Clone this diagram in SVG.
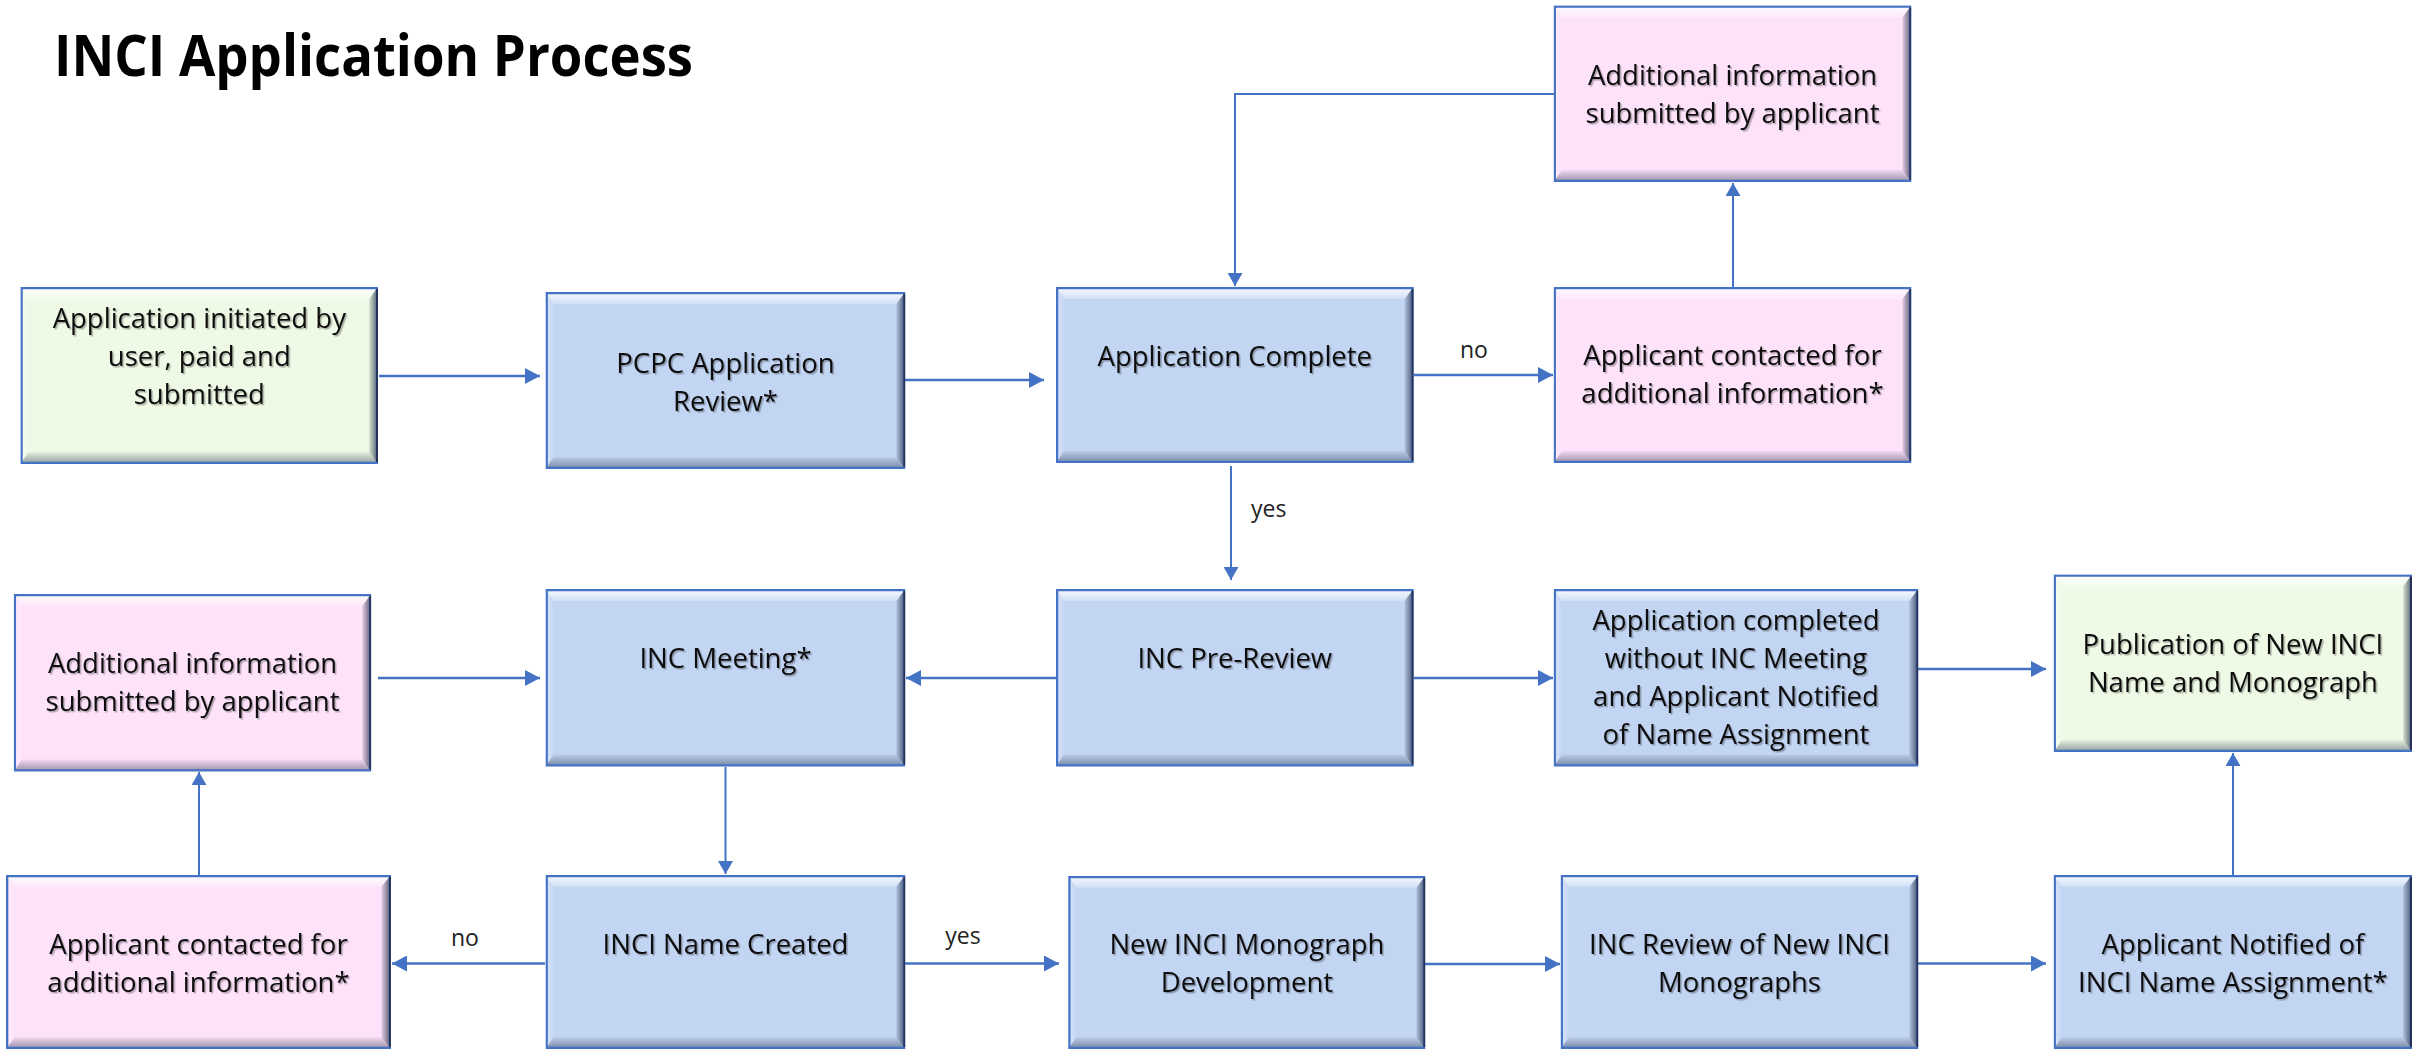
<svg xmlns="http://www.w3.org/2000/svg" width="2427" height="1051" viewBox="0 0 2427 1051">
<style>
.blue{fill:#C2D5F3}
.pink{fill:#FDE2FA}
.green{fill:#EFFAE6}
.t{font-family:"Open Sans","Liberation Sans",sans-serif;font-size:27.5px;fill:#111;text-anchor:middle}
.lbl{font-family:"Open Sans","Liberation Sans",sans-serif;font-size:23px;fill:#222}
.h{stroke-width:2.6}
.v{stroke-width:2}
</style>
<defs>
<linearGradient id="gTop" x1="0" y1="0" x2="0" y2="1"><stop offset="0" stop-color="#fff" stop-opacity="0.9"/><stop offset="1" stop-color="#fff" stop-opacity="0.25"/></linearGradient>
<linearGradient id="gBot" x1="0" y1="0" x2="0" y2="1"><stop offset="0" stop-color="#1a2540" stop-opacity="0.05"/><stop offset="1" stop-color="#1a2540" stop-opacity="0.45"/></linearGradient>
<linearGradient id="gRight" x1="0" y1="0" x2="1" y2="0"><stop offset="0" stop-color="#0c1630" stop-opacity="0.1"/><stop offset="1" stop-color="#0c1630" stop-opacity="0.7"/></linearGradient>
<linearGradient id="gLeft" x1="0" y1="0" x2="1" y2="0"><stop offset="0" stop-color="#fff" stop-opacity="0.35"/><stop offset="1" stop-color="#fff" stop-opacity="0.05"/></linearGradient>
<symbol id="bevel" viewBox="0 0 360 177" preserveAspectRatio="none">
<rect x="0" y="0" width="360" height="177"/>
<polygon points="0,0 360,0 351,12 8,12" fill="url(#gTop)"/>
<polygon points="360,0 360,177 351,165 351,12" fill="url(#gRight)"/>
<polygon points="0,177 360,177 351,165 8,165" fill="url(#gBot)"/>
<polygon points="0,0 8,12 8,165 0,177" fill="url(#gLeft)"/>
<rect x="1" y="1" width="358" height="175" fill="none" stroke="#4472C4" stroke-width="2.5" vector-effect="non-scaling-stroke"/>
<line x1="359" y1="2" x2="359" y2="175" stroke="#26345a" stroke-width="2" vector-effect="non-scaling-stroke"/>
</symbol>
<filter id="ts" x="-5%" y="-30%" width="110%" height="160%"><feDropShadow dx="1.5" dy="1.5" stdDeviation="0.7" flood-color="#000" flood-opacity="0.3"/></filter>
<marker id="ah" markerUnits="userSpaceOnUse" markerWidth="16" markerHeight="16" refX="15" refY="8" orient="auto"><path d="M0,0 L15,8 L0,16 Z" fill="#4472C4"/></marker>
<marker id="ahs" markerUnits="userSpaceOnUse" markerWidth="14" markerHeight="15" refX="13" refY="7.5" orient="auto"><path d="M0,0 L13,7.5 L0,15 Z" fill="#4472C4"/></marker>
</defs>
<rect width="2427" height="1051" fill="#fff"/>
<text x="54" y="76" font-family="'Open Sans','Liberation Sans',sans-serif" font-weight="bold" font-size="58" fill="#000" textLength="639" lengthAdjust="spacingAndGlyphs">INCI Application Process</text>

<g id="connectors" fill="none" stroke="#4472C4">
<path class="h" d="M379,376 H540" marker-end="url(#ah)"/>
<path class="h" d="M905,380 H1044" marker-end="url(#ah)"/>
<path class="h" d="M1414,375 H1553" marker-end="url(#ah)"/>
<path class="v" d="M1733,287 V183" marker-end="url(#ahs)"/>
<path class="v" d="M1554,94 H1235 V286" marker-end="url(#ahs)"/>
<path class="v" d="M1231,466 V580" marker-end="url(#ahs)"/>
<path class="h" d="M1056,678 H906" marker-end="url(#ah)"/>
<path class="h" d="M378,678 H540" marker-end="url(#ah)"/>
<path class="h" d="M1414,678 H1553" marker-end="url(#ah)"/>
<path class="h" d="M1918,669 H2046" marker-end="url(#ah)"/>
<path class="v" d="M725.5,767 V874" marker-end="url(#ahs)"/>
<path class="h" d="M545,963.5 H392" marker-end="url(#ah)"/>
<path class="v" d="M199,875 V772" marker-end="url(#ahs)"/>
<path class="h" d="M905,963.5 H1059" marker-end="url(#ah)"/>
<path class="h" d="M1425,964 H1560" marker-end="url(#ah)"/>
<path class="h" d="M1918,963.5 H2046" marker-end="url(#ah)"/>
<path class="v" d="M2233,875 V753" marker-end="url(#ahs)"/>
<text class="lbl" x="1474" y="358" text-anchor="middle" stroke="none">no</text>
<text class="lbl" x="1251" y="517" stroke="none">yes</text>
<text class="lbl" x="465" y="946" text-anchor="middle" stroke="none">no</text>
<text class="lbl" x="963" y="944" text-anchor="middle" stroke="none">yes</text>
</g>

<g id="n1"><use href="#bevel" x="20.5" y="287" width="357.5" height="177" class="green"/>
<text class="t" filter="url(#ts)"><tspan x="199.3" y="328">Application initiated by</tspan><tspan x="199.3" y="366">user, paid and</tspan><tspan x="199.3" y="404">submitted</tspan></text></g>

<g id="n2"><use href="#bevel" x="545.6" y="292" width="359.7" height="177" class="blue"/>
<text class="t" filter="url(#ts)"><tspan x="725.5" y="373">PCPC Application</tspan><tspan x="725.5" y="411">Review*</tspan></text></g>

<g id="n3"><use href="#bevel" x="1056" y="287" width="357.6" height="176" class="blue"/>
<text class="t" filter="url(#ts)" x="1234.8" y="366">Application Complete</text></g>

<g id="n4"><use href="#bevel" x="1553.7" y="287" width="357.6" height="176" class="pink"/>
<text class="t" filter="url(#ts)"><tspan x="1732.5" y="365">Applicant contacted for</tspan><tspan x="1732.5" y="403">additional information*</tspan></text></g>

<g id="n5"><use href="#bevel" x="1553.7" y="5.6" width="357.6" height="176.4" class="pink"/>
<text class="t" filter="url(#ts)"><tspan x="1732.5" y="85">Additional information</tspan><tspan x="1732.5" y="123">submitted by applicant</tspan></text></g>

<g id="n6"><use href="#bevel" x="13.8" y="594" width="357.4" height="177.6" class="pink"/>
<text class="t" filter="url(#ts)"><tspan x="192.5" y="672.5">Additional information</tspan><tspan x="192.5" y="711">submitted by applicant</tspan></text></g>

<g id="n7"><use href="#bevel" x="545.6" y="589" width="359.7" height="177.5" class="blue"/>
<text class="t" filter="url(#ts)" x="725.5" y="668">INC Meeting*</text></g>

<g id="n8"><use href="#bevel" x="1056" y="589" width="357.6" height="177.5" class="blue"/>
<text class="t" filter="url(#ts)" x="1234.8" y="668">INC Pre-Review</text></g>

<g id="n9"><use href="#bevel" x="1553.7" y="589" width="364.6" height="177.5" class="blue"/>
<text class="t" filter="url(#ts)"><tspan x="1736" y="630">Application completed</tspan><tspan x="1736" y="668">without INC Meeting</tspan><tspan x="1736" y="706">and Applicant Notified</tspan><tspan x="1736" y="744">of Name Assignment</tspan></text></g>

<g id="n10"><use href="#bevel" x="2053.7" y="574.5" width="358.3" height="177.5" class="green"/>
<text class="t" filter="url(#ts)"><tspan x="2232.9" y="654">Publication of New INCI</tspan><tspan x="2232.9" y="692">Name and Monograph</tspan></text></g>

<g id="n11"><use href="#bevel" x="6" y="875" width="385" height="174" class="pink"/>
<text class="t" filter="url(#ts)"><tspan x="198.5" y="954">Applicant contacted for</tspan><tspan x="198.5" y="992">additional information*</tspan></text></g>

<g id="n12"><use href="#bevel" x="545.6" y="875" width="359.7" height="174" class="blue"/>
<text class="t" filter="url(#ts)" x="725.5" y="954">INCI Name Created</text></g>

<g id="n13"><use href="#bevel" x="1068.3" y="876" width="357" height="173" class="blue"/>
<text class="t" filter="url(#ts)"><tspan x="1246.9" y="954">New INCI Monograph</tspan><tspan x="1246.9" y="992">Development</tspan></text></g>

<g id="n14"><use href="#bevel" x="1560.7" y="875" width="357.6" height="174" class="blue"/>
<text class="t" filter="url(#ts)"><tspan x="1739.5" y="954">INC Review of New INCI</tspan><tspan x="1739.5" y="992">Monographs</tspan></text></g>

<g id="n15"><use href="#bevel" x="2053.7" y="875" width="358.3" height="174" class="blue"/>
<text class="t" filter="url(#ts)"><tspan x="2232.9" y="954">Applicant Notified of</tspan><tspan x="2232.9" y="992">INCI Name Assignment*</tspan></text></g>
</svg>
